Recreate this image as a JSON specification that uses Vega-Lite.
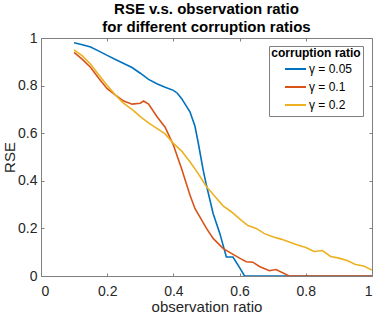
{
  "$schema": "https://vega.github.io/schema/vega-lite/v6.json",
  "width": 331,
  "height": 238,
  "autosize": {"type": "none"},
  "padding": {"left": 41, "top": 38, "right": 2, "bottom": 37},
  "background": "white",
  "title": {
    "text": ["RSE v.s. observation ratio", "for different corruption ratios"],
    "font": "Liberation Sans",
    "fontSize": 15,
    "fontWeight": "bold",
    "color": "#000000",
    "lineHeight": 18,
    "offset": -4,
    "anchor": "middle"
  },
  "config": {
    "view": {"stroke": null},
    "font": "Liberation Sans",
    "axis": {
      "grid": false,
      "domainColor": "#808080",
      "tickColor": "#808080",
      "labelColor": "#262626",
      "titleColor": "#262626",
      "labelFont": "Liberation Sans",
      "titleFont": "Liberation Sans",
      "labelFontSize": 14,
      "titleFontSize": 15,
      "titleFontWeight": "normal",
      "tickSize": -3,
      "domainWidth": 1,
      "tickWidth": 1
    }
  },
  "data": {
    "values": [
      {"ratio": 0.1, "rse": 0.98, "series": "γ = 0.05"},
      {"ratio": 0.125, "rse": 0.972, "series": "γ = 0.05"},
      {"ratio": 0.15, "rse": 0.962, "series": "γ = 0.05"},
      {"ratio": 0.175, "rse": 0.945, "series": "γ = 0.05"},
      {"ratio": 0.2, "rse": 0.927, "series": "γ = 0.05"},
      {"ratio": 0.225, "rse": 0.91, "series": "γ = 0.05"},
      {"ratio": 0.25, "rse": 0.893, "series": "γ = 0.05"},
      {"ratio": 0.275, "rse": 0.876, "series": "γ = 0.05"},
      {"ratio": 0.3, "rse": 0.852, "series": "γ = 0.05"},
      {"ratio": 0.325, "rse": 0.826, "series": "γ = 0.05"},
      {"ratio": 0.35, "rse": 0.808, "series": "γ = 0.05"},
      {"ratio": 0.375, "rse": 0.793, "series": "γ = 0.05"},
      {"ratio": 0.4, "rse": 0.78, "series": "γ = 0.05"},
      {"ratio": 0.412, "rse": 0.768, "series": "γ = 0.05"},
      {"ratio": 0.425, "rse": 0.745, "series": "γ = 0.05"},
      {"ratio": 0.45, "rse": 0.69, "series": "γ = 0.05"},
      {"ratio": 0.465, "rse": 0.63, "series": "γ = 0.05"},
      {"ratio": 0.475, "rse": 0.56, "series": "γ = 0.05"},
      {"ratio": 0.49, "rse": 0.445, "series": "γ = 0.05"},
      {"ratio": 0.5, "rse": 0.38, "series": "γ = 0.05"},
      {"ratio": 0.52, "rse": 0.263, "series": "γ = 0.05"},
      {"ratio": 0.54, "rse": 0.18, "series": "γ = 0.05"},
      {"ratio": 0.56, "rse": 0.08, "series": "γ = 0.05"},
      {"ratio": 0.58, "rse": 0.08, "series": "γ = 0.05"},
      {"ratio": 0.6, "rse": 0.035, "series": "γ = 0.05"},
      {"ratio": 0.615, "rse": 0.0, "series": "γ = 0.05"},
      {"ratio": 0.65, "rse": 0.0, "series": "γ = 0.05"},
      {"ratio": 0.7, "rse": 0.0, "series": "γ = 0.05"},
      {"ratio": 0.75, "rse": 0.0, "series": "γ = 0.05"},
      {"ratio": 0.8, "rse": 0.0, "series": "γ = 0.05"},
      {"ratio": 0.85, "rse": 0.0, "series": "γ = 0.05"},
      {"ratio": 0.9, "rse": 0.0, "series": "γ = 0.05"},
      {"ratio": 0.95, "rse": 0.0, "series": "γ = 0.05"},
      {"ratio": 1.0, "rse": 0.0, "series": "γ = 0.05"},

      {"ratio": 0.1, "rse": 0.94, "series": "γ = 0.1"},
      {"ratio": 0.125, "rse": 0.91, "series": "γ = 0.1"},
      {"ratio": 0.15, "rse": 0.876, "series": "γ = 0.1"},
      {"ratio": 0.175, "rse": 0.83, "series": "γ = 0.1"},
      {"ratio": 0.2, "rse": 0.787, "series": "γ = 0.1"},
      {"ratio": 0.225, "rse": 0.76, "series": "γ = 0.1"},
      {"ratio": 0.25, "rse": 0.735, "series": "γ = 0.1"},
      {"ratio": 0.275, "rse": 0.722, "series": "γ = 0.1"},
      {"ratio": 0.3, "rse": 0.726, "series": "γ = 0.1"},
      {"ratio": 0.31, "rse": 0.735, "series": "γ = 0.1"},
      {"ratio": 0.325, "rse": 0.722, "series": "γ = 0.1"},
      {"ratio": 0.35, "rse": 0.67, "series": "γ = 0.1"},
      {"ratio": 0.375, "rse": 0.625, "series": "γ = 0.1"},
      {"ratio": 0.4, "rse": 0.55, "series": "γ = 0.1"},
      {"ratio": 0.425, "rse": 0.45, "series": "γ = 0.1"},
      {"ratio": 0.45, "rse": 0.34, "series": "γ = 0.1"},
      {"ratio": 0.465, "rse": 0.284, "series": "γ = 0.1"},
      {"ratio": 0.5, "rse": 0.2, "series": "γ = 0.1"},
      {"ratio": 0.52, "rse": 0.158, "series": "γ = 0.1"},
      {"ratio": 0.55, "rse": 0.116, "series": "γ = 0.1"},
      {"ratio": 0.575, "rse": 0.095, "series": "γ = 0.1"},
      {"ratio": 0.6, "rse": 0.075, "series": "γ = 0.1"},
      {"ratio": 0.62, "rse": 0.06, "series": "γ = 0.1"},
      {"ratio": 0.64, "rse": 0.058, "series": "γ = 0.1"},
      {"ratio": 0.66, "rse": 0.04, "series": "γ = 0.1"},
      {"ratio": 0.69, "rse": 0.022, "series": "γ = 0.1"},
      {"ratio": 0.71, "rse": 0.027, "series": "γ = 0.1"},
      {"ratio": 0.75, "rse": 0.0, "series": "γ = 0.1"},
      {"ratio": 0.8, "rse": 0.0, "series": "γ = 0.1"},
      {"ratio": 0.85, "rse": 0.0, "series": "γ = 0.1"},
      {"ratio": 0.9, "rse": 0.0, "series": "γ = 0.1"},
      {"ratio": 0.95, "rse": 0.0, "series": "γ = 0.1"},
      {"ratio": 1.0, "rse": 0.0, "series": "γ = 0.1"},

      {"ratio": 0.1, "rse": 0.95, "series": "γ = 0.2"},
      {"ratio": 0.125, "rse": 0.925, "series": "γ = 0.2"},
      {"ratio": 0.15, "rse": 0.89, "series": "γ = 0.2"},
      {"ratio": 0.175, "rse": 0.845, "series": "γ = 0.2"},
      {"ratio": 0.2, "rse": 0.8, "series": "γ = 0.2"},
      {"ratio": 0.225, "rse": 0.76, "series": "γ = 0.2"},
      {"ratio": 0.25, "rse": 0.725, "series": "γ = 0.2"},
      {"ratio": 0.275, "rse": 0.7, "series": "γ = 0.2"},
      {"ratio": 0.3, "rse": 0.67, "series": "γ = 0.2"},
      {"ratio": 0.325, "rse": 0.643, "series": "γ = 0.2"},
      {"ratio": 0.35, "rse": 0.62, "series": "γ = 0.2"},
      {"ratio": 0.375, "rse": 0.597, "series": "γ = 0.2"},
      {"ratio": 0.4, "rse": 0.557, "series": "γ = 0.2"},
      {"ratio": 0.425, "rse": 0.525, "series": "γ = 0.2"},
      {"ratio": 0.45, "rse": 0.48, "series": "γ = 0.2"},
      {"ratio": 0.475, "rse": 0.43, "series": "γ = 0.2"},
      {"ratio": 0.5, "rse": 0.375, "series": "γ = 0.2"},
      {"ratio": 0.525, "rse": 0.335, "series": "γ = 0.2"},
      {"ratio": 0.55, "rse": 0.295, "series": "γ = 0.2"},
      {"ratio": 0.575, "rse": 0.27, "series": "γ = 0.2"},
      {"ratio": 0.6, "rse": 0.24, "series": "γ = 0.2"},
      {"ratio": 0.625, "rse": 0.212, "series": "γ = 0.2"},
      {"ratio": 0.65, "rse": 0.2, "series": "γ = 0.2"},
      {"ratio": 0.675, "rse": 0.178, "series": "γ = 0.2"},
      {"ratio": 0.7, "rse": 0.165, "series": "γ = 0.2"},
      {"ratio": 0.725, "rse": 0.155, "series": "γ = 0.2"},
      {"ratio": 0.75, "rse": 0.143, "series": "γ = 0.2"},
      {"ratio": 0.775, "rse": 0.13, "series": "γ = 0.2"},
      {"ratio": 0.8, "rse": 0.12, "series": "γ = 0.2"},
      {"ratio": 0.825, "rse": 0.103, "series": "γ = 0.2"},
      {"ratio": 0.85, "rse": 0.107, "series": "γ = 0.2"},
      {"ratio": 0.875, "rse": 0.082, "series": "γ = 0.2"},
      {"ratio": 0.9, "rse": 0.075, "series": "γ = 0.2"},
      {"ratio": 0.925, "rse": 0.065, "series": "γ = 0.2"},
      {"ratio": 0.95, "rse": 0.048, "series": "γ = 0.2"},
      {"ratio": 0.975, "rse": 0.042, "series": "γ = 0.2"},
      {"ratio": 1.0, "rse": 0.025, "series": "γ = 0.2"}
    ]
  },
  "layer": [
    {
      "mark": {"type": "line", "strokeWidth": 1.6, "clip": true},
      "encoding": {
        "x": {"field": "ratio", "type": "quantitative", "scale": {"domain": [0, 1], "nice": false},
              "axis": {"title": "observation ratio", "values": [0, 0.2, 0.4, 0.6, 0.8, 1], "labelPadding": 11, "titlePadding": 1, "labelExpr": "datum.value"}},
        "y": {"field": "rse", "type": "quantitative", "scale": {"domain": [0, 1], "nice": false},
              "axis": {"title": "RSE", "values": [0, 0.2, 0.4, 0.6, 0.8, 1], "labelPadding": 7, "titlePadding": 0, "labelExpr": "datum.value"}},
        "color": {"field": "series", "type": "nominal",
                  "scale": {"domain": ["γ = 0.05", "γ = 0.1", "γ = 0.2"], "range": ["#0072BD", "#D95319", "#EDB120"]},
                  "legend": {"title": "corruption ratio", "orient": "none", "legendX": 228, "legendY": 8,
                             "fillColor": "white", "strokeColor": "#808080", "padding": 2,
                             "titleFont": "Liberation Sans", "titleFontSize": 12, "titleFontWeight": "bold", "titleColor": "#000000",
                             "titlePadding": 1, "titleAnchor": "middle",
                             "labelFont": "Liberation Sans", "labelFontSize": 12, "labelColor": "#000000",
                             "symbolType": "M-1.5,0H1.5M0,-0.6L0,-0.6M0,0.6L0,0.6", "symbolSize": 196, "symbolStrokeWidth": 2,
                             "symbolOffset": 8.5, "labelOffset": 5.5, "rowPadding": 0}}
      }
    },
    {
      "mark": {"type": "rule", "opacity": 0},
      "encoding": {
        "x": {"datum": 0, "type": "quantitative", "axis": {"orient": "top", "labels": false, "title": null, "values": [0, 0.2, 0.4, 0.6, 0.8, 1], "domain": true}},
        "y": {"datum": 0, "type": "quantitative", "axis": {"orient": "right", "labels": false, "title": null, "values": [0, 0.2, 0.4, 0.6, 0.8, 1], "domain": true}}
      }
    }
  ],
  "resolve": {"axis": {"x": "independent", "y": "independent"}}
}
